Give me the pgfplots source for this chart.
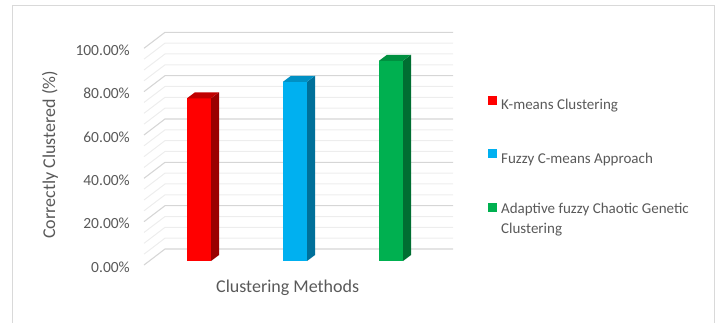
\documentclass[border=0pt]{standalone}
\usepackage{pgfplots}
\pgfplotsset{compat=1.18}
\usepackage{fontspec}
\setmainfont{Carlito}
\definecolor{txt}{HTML}{595959}
\definecolor{frame}{HTML}{D9D9D9}
\definecolor{gmaj}{HTML}{D6D6D6}
\definecolor{gmin}{HTML}{EDEDED}
\definecolor{rf}{HTML}{FF0000}
\definecolor{rt}{HTML}{C00000}
\definecolor{rs}{HTML}{9A0000}
\definecolor{bf}{HTML}{00B0F0}
\definecolor{bt}{HTML}{0090C4}
\definecolor{bs}{HTML}{00709A}
\definecolor{gf}{HTML}{00B050}
\definecolor{gt}{HTML}{009040}
\definecolor{gs}{HTML}{006E32}
\pgfplotsset{
  squarelegend/.style={legend image code/.code={\fill[##1] (0pt,0.5pt) rectangle (9pt,9.5pt);}},
  squarelegendhigh/.style={legend image code/.code={\fill[##1] (0pt,7pt) rectangle (9pt,16pt);}},
}
\begin{document}
\begin{tikzpicture}[x=1pt,y=1pt]
\useasboundingbox (0,0) rectangle (718,322);
\draw[color=frame, line width=1.2pt] (12.3,-10) -- (12.3,316.5) -- (714.5,316.5) -- (714.5,-10);

% back wall and side wall gridlines, value labels and axis titles
\begin{axis}[
  at={(144pt,57pt)}, anchor=south west, scale only axis,
  width=309pt, height=232.7pt,
  xmin=0, xmax=309, ymin=0, ymax=107.38,
  axis line style={draw=none},
  xtick=\empty,
  ytick={0,20,40,60,80,100},
  yticklabels={0.00\%,20.00\%,40.00\%,60.00\%,80.00\%,100.00\%},
  major tick length=0pt,
  yticklabel style={font=\fontsize{15.5}{18}\selectfont, text=txt, anchor=east, inner sep=0pt, xshift=-14pt, yshift=-2pt},
  ylabel={Correctly Clustered (\%)},
  xlabel={Clustering Methods},
  every axis y label/.style={at={(rel axis cs:-0.304,0.473)}, rotate=90, anchor=center, font=\fontsize{18}{20}\selectfont, text=txt},
  every axis x label/.style={at={(rel axis cs:0.465,-0.099)}, anchor=center, font=\fontsize{18}{20}\selectfont, text=txt},
  clip=false,
]
\pgfplotsinvokeforeach{5,10,15,25,30,35,45,50,55,65,70,75,85,90,95}{
  \draw[gmin, line width=1pt] (axis cs:0,#1) -- (axis cs:21,#1+7.38) -- (axis cs:309,#1+7.38);
}
\pgfplotsinvokeforeach{0,20,40,60,80,100}{
  \draw[gmaj, line width=1.1pt] (axis cs:0,#1) -- (axis cs:21,#1+7.38) -- (axis cs:309,#1+7.38);
}
\end{axis}

% bars
\begin{axis}[
  at={(144pt,61pt)}, anchor=south west, scale only axis,
  width=309pt, height=232.7pt,
  xmin=0, xmax=309, ymin=0, ymax=107.38,
  hide axis, clip=false,
  legend cell align=left,
  squarelegend,
  legend style={at={(axis description cs:1.113,0.711)}, anchor=north west,
    draw=none, fill=none, inner sep=0pt, row sep=38pt, column sep=4pt,
    font=\fontsize{15}{20}\selectfont, text=txt,
    nodes={inner sep=0pt, align=left}},
]
\addplot[ybar, bar width=24, bar shift=0pt, fill=rf, draw=none] coordinates {(55,75.1)};
\addlegendentry{K-means Clustering}
\addplot[ybar, bar width=24, bar shift=0pt, fill=bf, draw=none] coordinates {(151,82.7)};
\addlegendentry{Fuzzy C-means Approach}
\addplot[ybar, bar width=24, bar shift=0pt, fill=gf, draw=none, squarelegendhigh] coordinates {(247,92.4)};
\addlegendentry{Adaptive fuzzy Chaotic Genetic\\Clustering}
% side and top faces
\addplot[fill=rs, draw=none, forget plot] coordinates {(67,0) (75,2.77) (75,77.87) (67,75.1)};
\addplot[fill=rt, draw=none, forget plot] coordinates {(43,75.1) (67,75.1) (75,77.87) (51,77.87)};
\addplot[fill=bs, draw=none, forget plot] coordinates {(163,0) (171,2.77) (171,85.47) (163,82.7)};
\addplot[fill=bt, draw=none, forget plot] coordinates {(139,82.7) (163,82.7) (171,85.47) (147,85.47)};
\addplot[fill=gs, draw=none, forget plot] coordinates {(259,0) (267,2.77) (267,95.17) (259,92.4)};
\addplot[fill=gt, draw=none, forget plot] coordinates {(235,92.4) (259,92.4) (267,95.17) (243,95.17)};
\end{axis}
\end{tikzpicture}
\end{document}
